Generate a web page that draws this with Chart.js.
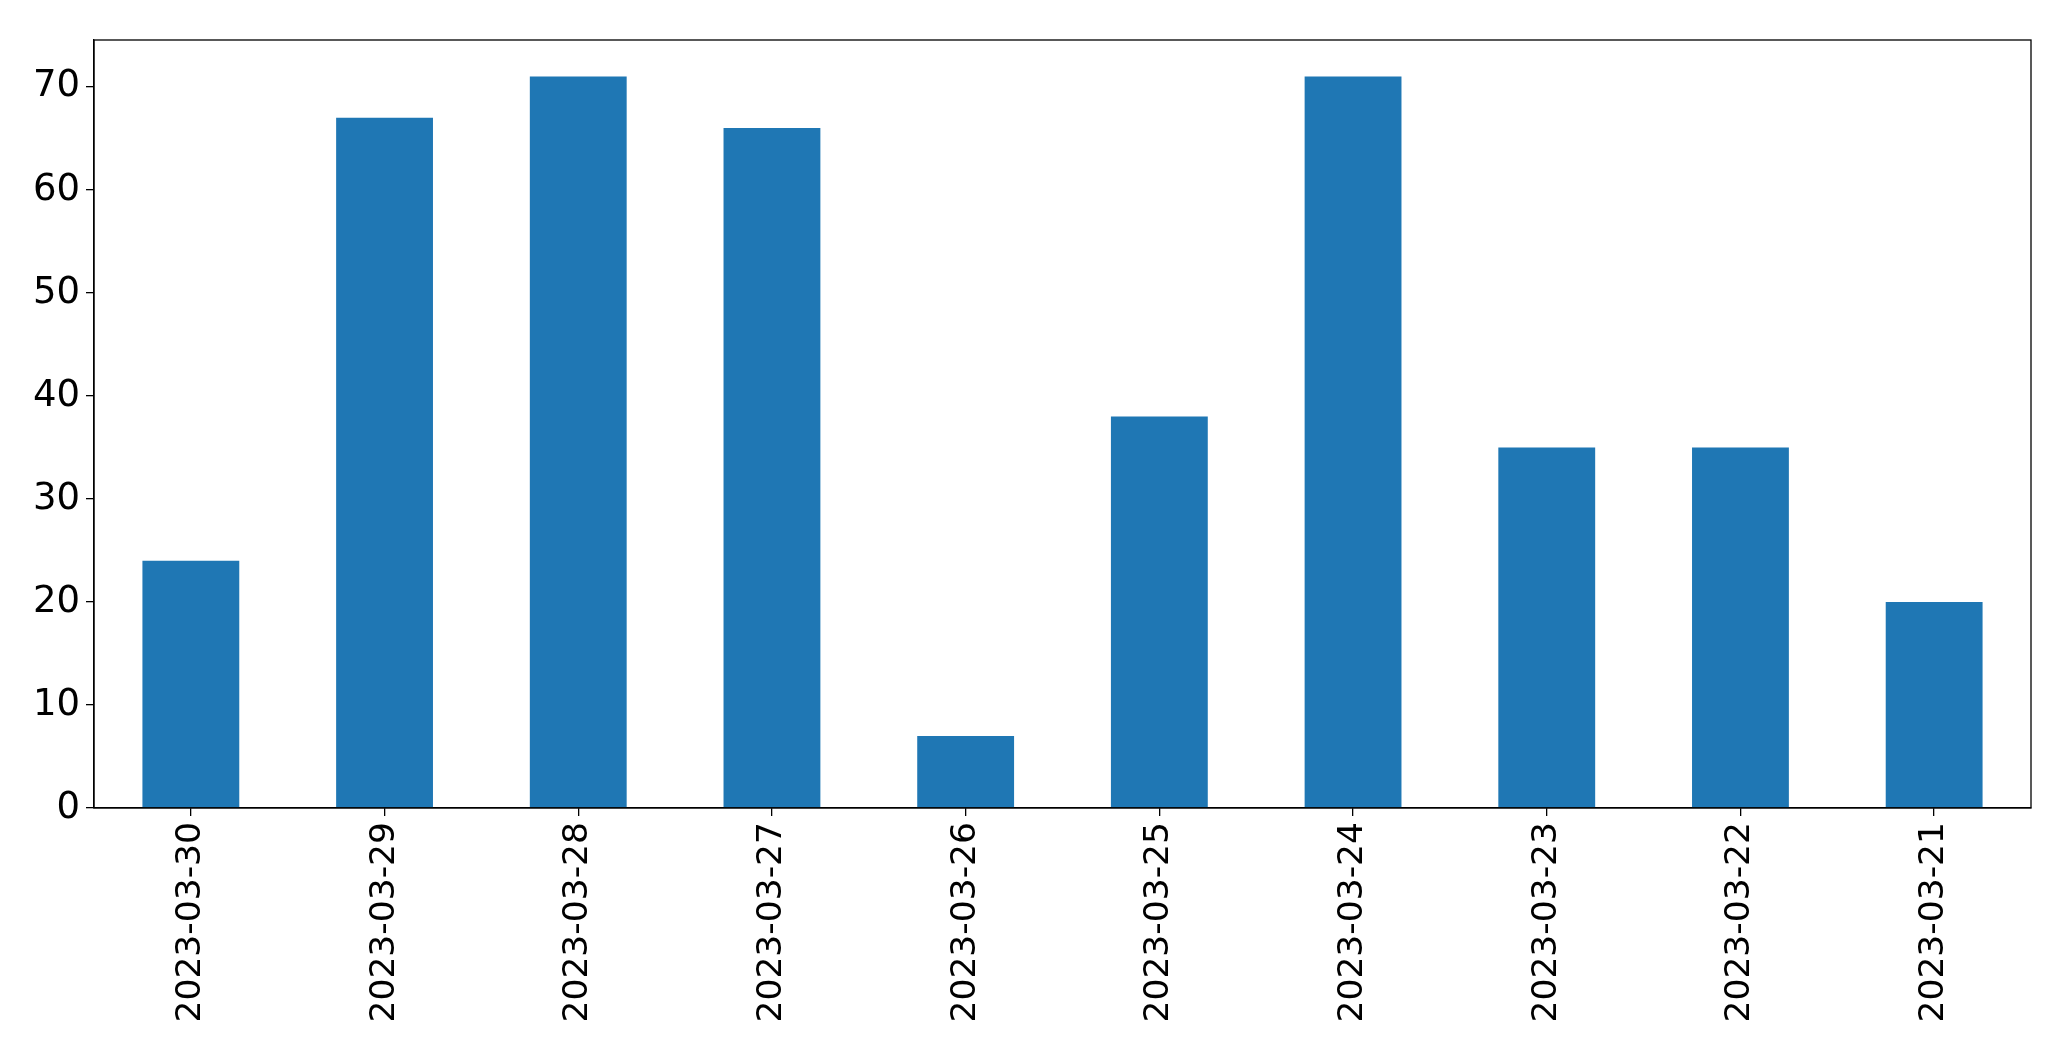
<!DOCTYPE html>
<html>
<head>
    <title>Daily Counts</title>
    <script src="https://cdn.jsdelivr.net/npm/chart.js"></script>
    <style>
        html, body {
            margin: 0;
            padding: 0;
            background: #fff;
        }
        #chartContainer {
            width: 2071px;
            height: 1061px;
        }
    </style>
</head>
<body>
    <div id="chartContainer">
        <canvas id="myChart"></canvas>
    </div>

    <script>
        // data
        const dates = ['2023-03-30', '2023-03-29', '2023-03-28', '2023-03-27', '2023-03-26',
                       '2023-03-25', '2023-03-24', '2023-03-23', '2023-03-22', '2023-03-21'];
        const counts = [24, 67, 71, 66, 7, 38, 71, 35, 35, 20];
        const yTicks = [0, 10, 20, 30, 40, 50, 60, 70];

        // box around the plot area, like matplotlib's spines
        const frame = {
            id: 'frame',
            afterDraw(chart) {
                const a = chart.chartArea;
                const c = chart.ctx;
                c.save();
                c.strokeStyle = '#000';
                c.lineWidth = 1.3;
                c.strokeRect(a.left, a.top, a.right - a.left, a.bottom - a.top);
                c.restore();
            }
        };

        const ctx = document.getElementById('myChart').getContext('2d');
        new Chart(ctx, {
            type: 'bar',
            data: {
                labels: dates,
                datasets: [{
                    data: counts,
                    backgroundColor: '#1f77b4',
                    borderWidth: 0,
                    categoryPercentage: 1.0,
                    barPercentage: 0.5
                }]
            },
            options: {
                responsive: true,
                maintainAspectRatio: false,
                animation: false,
                layout: {
                    padding: { top: 40, right: 40, left: 0, bottom: 0 }
                },
                plugins: {
                    legend: { display: false },
                    tooltip: { enabled: false }
                },
                scales: {
                    x: {
                        offset: true,
                        grid: {
                            offset: false,
                            drawOnChartArea: false,
                            drawTicks: true,
                            tickLength: 8,
                            color: '#000',
                            lineWidth: 1.3
                        },
                        border: { display: true, color: '#000', width: 1.3 },
                        ticks: {
                            color: '#000',
                            font: { family: 'DejaVu Sans', size: 34.5 },
                            minRotation: 90,
                            maxRotation: 90,
                            padding: 6,
                            autoSkip: false
                        },
                        afterFit(scale) { scale.height = 253; }
                    },
                    y: {
                        min: 0,
                        max: 74.55,
                        afterBuildTicks(scale) {
                            scale.ticks = yTicks.map(v => ({ value: v }));
                        },
                        grid: {
                            drawOnChartArea: false,
                            drawTicks: true,
                            tickLength: 8,
                            color: '#000',
                            lineWidth: 1.3
                        },
                        border: { display: true, color: '#000', width: 1.3 },
                        ticks: {
                            color: '#000',
                            font: { family: 'DejaVu Sans', size: 37 },
                            padding: 6
                        },
                        afterFit(scale) { scale.width = 94; }
                    }
                }
            },
            plugins: [frame]
        });
    </script>
</body>
</html>
